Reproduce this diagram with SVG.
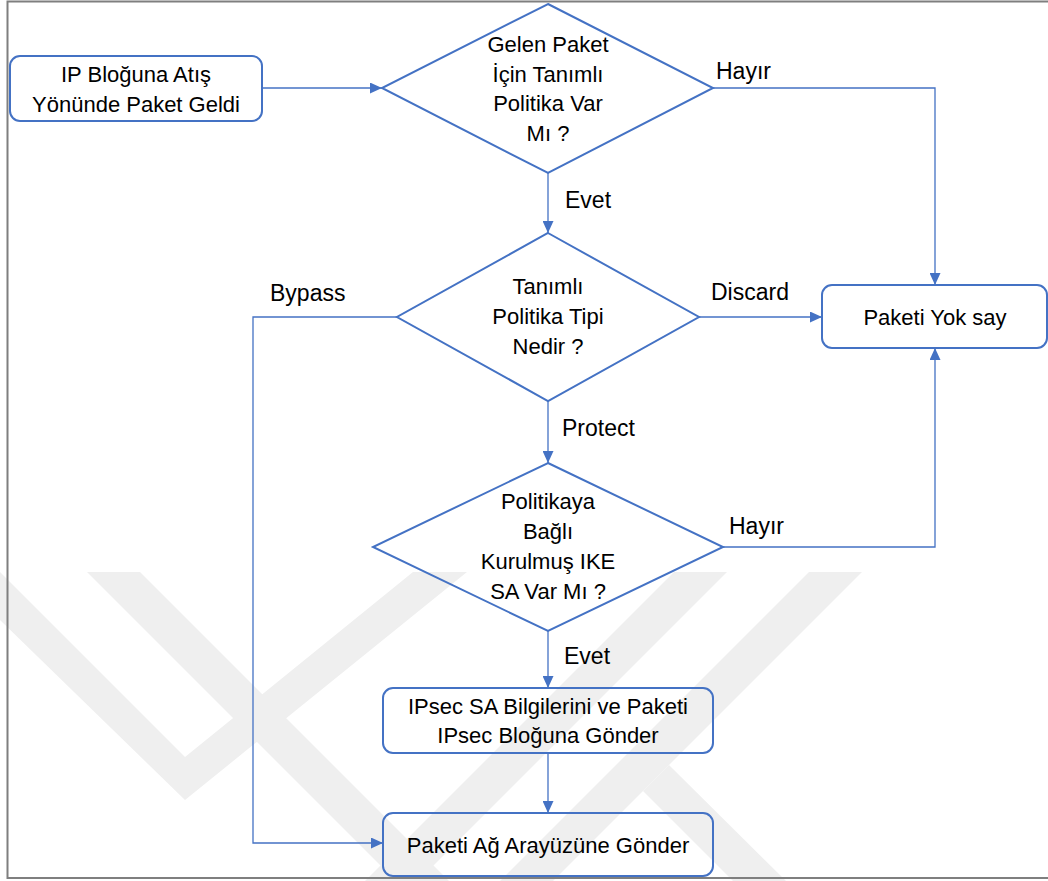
<svg xmlns="http://www.w3.org/2000/svg" width="1048" height="881" viewBox="0 0 1048 881">
  <style>
    .frame { fill: none; stroke: #7f7f7f; stroke-width: 2; }
    .mark { fill: #efefef; stroke: none; }
    .shape { fill: none; stroke: #4472c4; stroke-width: 2; }
    .wire { fill: none; stroke: #4472c4; stroke-width: 1.3; }
    .txt { font-family: "Liberation Sans", Arial, sans-serif; font-size: 22px; fill: #000; text-anchor: middle; }
    .lbl { font-family: "Liberation Sans", Arial, sans-serif; font-size: 23px; fill: #000; }
  </style>
  <defs>
    <marker id="arrow" viewBox="0 0 12 11" markerUnits="userSpaceOnUse" markerWidth="12" markerHeight="11" refX="12" refY="5.5" orient="auto">
      <path d="M0,0 L12,5.5 L0,11 Z" fill="#4472c4"/>
    </marker>
  </defs>

  <rect width="1048" height="881" fill="#ffffff"/>

  <!-- background emblem stripes -->
  <g id="emblem">
    <polygon class="mark" points="0,572 0,620 185,800 467,572 413,572 185,757"/>
    <polygon class="mark" points="87,572 140,572 449,881 396,881"/>
    <polygon class="mark" points="674,572 727,572 418,881 365,881"/>
    <polygon class="mark" points="809,572 862,572 553,881 500,881"/>
    <polygon class="mark" points="669,765 786,881 733,881 643,791"/>
  </g>

  <rect class="frame" x="7.5" y="1.5" width="1100" height="876.5"/>

  <!-- connectors -->
  <g id="connectors">
    <path class="wire" d="M262,88 H382" marker-end="url(#arrow)"/>
    <path class="wire" d="M713,88 H935 V285" marker-end="url(#arrow)"/>
    <path class="wire" d="M548,173 V233" marker-end="url(#arrow)"/>
    <path class="wire" d="M699,317 H822" marker-end="url(#arrow)"/>
    <path class="wire" d="M397,317 H253 V843 H383" marker-end="url(#arrow)"/>
    <path class="wire" d="M548,401 V463" marker-end="url(#arrow)"/>
    <path class="wire" d="M723,547 H935 V348" marker-end="url(#arrow)"/>
    <path class="wire" d="M548,631 V688" marker-end="url(#arrow)"/>
    <path class="wire" d="M548,753 V813" marker-end="url(#arrow)"/>
    <text class="lbl" x="716" y="79">Hayır</text>
    <text class="lbl" x="565" y="208">Evet</text>
    <text class="lbl" x="270" y="301">Bypass</text>
    <text class="lbl" x="711" y="300">Discard</text>
    <text class="lbl" x="562" y="436">Protect</text>
    <text class="lbl" x="729" y="534">Hayır</text>
    <text class="lbl" x="564" y="664">Evet</text>
  </g>

  <!-- nodes -->
  <g id="start">
    <rect class="shape" x="10" y="56" width="252" height="65" rx="10"/>
    <text class="txt" x="136" y="82">IP Bloğuna Atış</text>
    <text class="txt" x="136" y="112">Yönünde Paket Geldi</text>
  </g>

  <g id="policy-exists">
    <polygon class="shape" points="548,4 713,88 548,173 382,88"/>
    <text class="txt" x="548" y="52">Gelen Paket</text>
    <text class="txt" x="548" y="82">İçin Tanımlı</text>
    <text class="txt" x="548" y="111">Politika Var</text>
    <text class="txt" x="548" y="141">Mı ?</text>
  </g>

  <g id="policy-type">
    <polygon class="shape" points="548,233 699,317 548,401 397,317"/>
    <text class="txt" x="548" y="294">Tanımlı</text>
    <text class="txt" x="548" y="324">Politika Tipi</text>
    <text class="txt" x="548" y="354">Nedir ?</text>
  </g>

  <g id="drop">
    <rect class="shape" x="822" y="285" width="225" height="63" rx="10"/>
    <text class="txt" x="935" y="325">Paketi Yok say</text>
  </g>

  <g id="ike-sa">
    <polygon class="shape" points="548,463 723,547 548,631 373,547"/>
    <text class="txt" x="548" y="509">Politikaya</text>
    <text class="txt" x="548" y="539">Bağlı</text>
    <text class="txt" x="548" y="569">Kurulmuş IKE</text>
    <text class="txt" x="548" y="599">SA Var Mı ?</text>
  </g>

  <g id="ipsec">
    <rect class="shape" x="383" y="688" width="330" height="65" rx="10"/>
    <text class="txt" x="548" y="714">IPsec SA Bilgilerini ve Paketi</text>
    <text class="txt" x="548" y="743">IPsec Bloğuna Gönder</text>
  </g>

  <g id="send">
    <rect class="shape" x="383" y="813" width="330" height="63" rx="10"/>
    <text class="txt" x="548" y="853">Paketi Ağ Arayüzüne Gönder</text>
  </g>
</svg>
